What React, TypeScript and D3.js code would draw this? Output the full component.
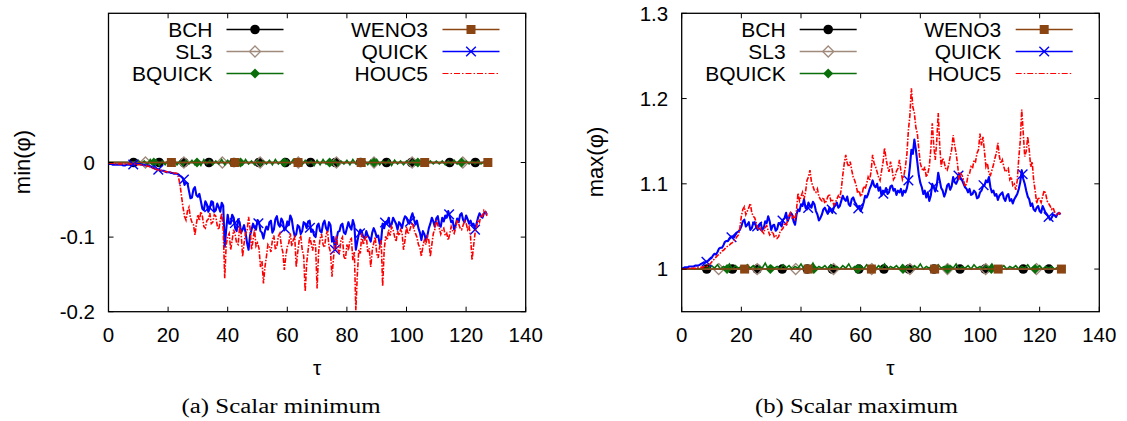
import React from 'react';
import * as d3 from 'd3';

// ---------- data ----------
const X_TICKS = [0, 20, 40, 60, 80, 100, 120, 140];
const MIN_Y_TICKS = [-0.2, -0.1, 0];
const MAX_Y_TICKS = [1, 1.1, 1.2, 1.3];

const SERIES_NAMES = ['BCH', 'SL3', 'BQUICK', 'WENO3', 'QUICK', 'HOUC5'];

// flat series (BCH, SL3, WENO3) are constant over the run
const FLAT_TAU = [0, 127.3];
const MIN_FLAT = [0, 0];
const MAX_FLAT = [1, 1];

// tau positions of the plotted point symbols
const BCH_MARKS = [8.4, 17, 25.3, 33.7, 42.1, 50.5, 59.4, 67.8, 76.2, 84.6, 93.3, 101.7, 114.5, 123.1];
const SL3_MARKS = [12.4, 25.3, 38.2, 50.9, 63.7, 76.5, 89.1, 101.9, 118.9];
const BQUICK_MARKS = [15.2, 29.7, 44.3, 59, 74.2, 89.1, 103.8, 118.5];
const WENO3_MARKS = [21.1, 42.4, 63.6, 84.8, 106.1, 127.3];
const QUICK_MARKS = [8.3, 16.7, 25.3, 33.8, 42.4, 50.3, 59.2, 67.6, 76, 84.4, 92.8, 101.2, 114.3, 123];

// sampled at tau = 0,1,2,...,127
const QUICK_MIN = [
  -0.002, -0.002, -0.003, -0.003, -0.003, -0.004, -0.003, -0.003, -0.003, -0.002,
  -0.002, -0.003, -0.003, -0.004, -0.005, -0.007, -0.009, -0.010, -0.011, -0.012,
  -0.013, -0.014, -0.015, -0.015, -0.018, -0.021, -0.027, -0.038, -0.047, -0.033,
  -0.046, -0.052, -0.064, -0.056, -0.061, -0.053, -0.064, -0.060, -0.054, -0.113,
  -0.070, -0.082, -0.074, -0.092, -0.080, -0.090, -0.094, -0.117, -0.090, -0.087,
  -0.077, -0.092, -0.102, -0.086, -0.080, -0.094, -0.076, -0.083, -0.075, -0.091,
  -0.079, -0.071, -0.090, -0.096, -0.086, -0.092, -0.082, -0.079, -0.093, -0.098,
  -0.085, -0.092, -0.082, -0.088, -0.080, -0.106, -0.117, -0.093, -0.084, -0.094,
  -0.088, -0.086, -0.077, -0.117, -0.096, -0.093, -0.102, -0.098, -0.106, -0.088,
  -0.100, -0.109, -0.082, -0.080, -0.074, -0.083, -0.078, -0.090, -0.083, -0.078,
  -0.074, -0.082, -0.068, -0.083, -0.088, -0.104, -0.096, -0.098, -0.082, -0.079,
  -0.075, -0.084, -0.074, -0.071, -0.065, -0.080, -0.090, -0.075, -0.070, -0.077,
  -0.071, -0.082, -0.084, -0.090, -0.074, -0.072, -0.068, -0.070,
];
// sampled at tau = 0.5,1.5,...,126.5 (the fast oscillation between the samples above)
const QUICK_MIN_HALF = [
  -0.002, -0.003, -0.003, -0.003, -0.003, -0.004, -0.003, -0.003, -0.002, -0.002,
  -0.002, -0.003, -0.004, -0.004, -0.006, -0.008, -0.009, -0.011, -0.011, -0.013,
  -0.013, -0.014, -0.015, -0.016, -0.019, -0.030, -0.028, -0.048, -0.036, -0.044,
  -0.042, -0.062, -0.052, -0.066, -0.052, -0.066, -0.055, -0.066, -0.058, -0.090,
  -0.082, -0.070, -0.088, -0.076, -0.094, -0.084, -0.108, -0.098, -0.082, -0.090,
  -0.080, -0.094, -0.092, -0.090, -0.078, -0.090, -0.072, -0.086, -0.079, -0.088,
  -0.084, -0.076, -0.099, -0.084, -0.096, -0.080, -0.088, -0.078, -0.090, -0.100,
  -0.082, -0.094, -0.078, -0.092, -0.084, -0.100, -0.104, -0.092, -0.082, -0.096,
  -0.080, -0.090, -0.084, -0.106, -0.090, -0.100, -0.092, -0.101, -0.094, -0.093,
  -0.098, -0.104, -0.088, -0.082, -0.086, -0.074, -0.082, -0.080, -0.088, -0.072,
  -0.080, -0.074, -0.076, -0.078, -0.094, -0.092, -0.104, -0.088, -0.074, -0.086,
  -0.072, -0.086, -0.079, -0.074, -0.072, -0.078, -0.084, -0.080, -0.068, -0.080,
  -0.076, -0.078, -0.082, -0.082, -0.068, -0.074, -0.066,
];

const HOUC5_MIN = [
  -0.001, -0.001, -0.001, -0.002, -0.002, -0.002, -0.002, -0.002, -0.002, -0.002,
  -0.003, -0.003, -0.004, -0.005, -0.006, -0.008, -0.009, -0.010, -0.011, -0.012,
  -0.013, -0.013, -0.014, -0.015, -0.030, -0.060, -0.077, -0.060, -0.080, -0.097,
  -0.070, -0.066, -0.086, -0.078, -0.068, -0.080, -0.072, -0.090, -0.068, -0.155,
  -0.099, -0.117, -0.090, -0.108, -0.086, -0.126, -0.095, -0.073, -0.117, -0.090,
  -0.108, -0.140, -0.162, -0.126, -0.113, -0.104, -0.117, -0.099, -0.112, -0.144,
  -0.113, -0.095, -0.104, -0.140, -0.104, -0.117, -0.173, -0.117, -0.108, -0.104,
  -0.169, -0.102, -0.110, -0.097, -0.113, -0.153, -0.108, -0.117, -0.104, -0.126,
  -0.110, -0.104, -0.131, -0.198, -0.117, -0.095, -0.104, -0.120, -0.140, -0.108,
  -0.122, -0.113, -0.166, -0.099, -0.090, -0.086, -0.099, -0.092, -0.090, -0.117,
  -0.086, -0.092, -0.081, -0.095, -0.110, -0.126, -0.104, -0.099, -0.126, -0.095,
  -0.077, -0.088, -0.090, -0.098, -0.104, -0.086, -0.095, -0.077, -0.088, -0.084,
  -0.081, -0.086, -0.131, -0.095, -0.077, -0.070, -0.064, -0.072,
];
const HOUC5_MIN_HALF = [
  -0.001, -0.001, -0.002, -0.002, -0.002, -0.002, -0.002, -0.002, -0.002, -0.003,
  -0.003, -0.004, -0.004, -0.005, -0.007, -0.008, -0.010, -0.010, -0.012, -0.012,
  -0.013, -0.014, -0.014, -0.020, -0.045, -0.072, -0.065, -0.074, -0.083, -0.082,
  -0.078, -0.072, -0.088, -0.076, -0.082, -0.070, -0.085, -0.078, -0.090, -0.110,
  -0.095, -0.104, -0.097, -0.110, -0.094, -0.108, -0.092, -0.088, -0.104, -0.112,
  -0.115, -0.132, -0.140, -0.110, -0.120, -0.098, -0.112, -0.095, -0.120, -0.125,
  -0.108, -0.112, -0.100, -0.120, -0.098, -0.125, -0.135, -0.100, -0.118, -0.112,
  -0.120, -0.096, -0.114, -0.092, -0.120, -0.128, -0.098, -0.122, -0.100, -0.130,
  -0.118, -0.102, -0.120, -0.150, -0.122, -0.110, -0.098, -0.115, -0.118, -0.100,
  -0.128, -0.104, -0.118, -0.104, -0.098, -0.090, -0.106, -0.098, -0.094, -0.104,
  -0.096, -0.085, -0.090, -0.100, -0.114, -0.112, -0.110, -0.104, -0.110, -0.090,
  -0.084, -0.096, -0.088, -0.095, -0.096, -0.092, -0.088, -0.082, -0.090, -0.078,
  -0.090, -0.100, -0.112, -0.086, -0.080, -0.072, -0.066,
];

const BQUICK_MIN = [
  0, 0, 0, 0, 0, 0, 0, 0, 0, 0.001,
  0.003, -0.002, 0.002, -0.003, 0.004, -0.002, 0.003, -0.004, 0.002, -0.003,
  0.003, -0.002, 0.004, -0.003, 0.002, -0.004, 0.003, -0.002, 0.003, -0.003,
  0.002, -0.004, 0.004, -0.002, 0.003, -0.003, 0.002, -0.002, 0.004, -0.003,
  0.003, -0.002, 0.002, -0.004, 0.003, -0.003, 0.004, -0.002, 0.002, -0.003,
  0.003, -0.004, 0.002, -0.002, 0.003, -0.003, 0.004, -0.002, 0.002, -0.004,
  0.003, -0.002, 0.004, -0.003, 0.002, -0.003, 0.003, -0.002, 0.002, -0.004,
  0.003, -0.003, 0.004, -0.002, 0.002, -0.003, 0.003, -0.004, 0.002, -0.002,
  0.003, -0.003, 0.004, -0.002, 0.003, -0.004, 0.002, -0.003, 0.003, -0.002,
  0.004, -0.003, 0.002, -0.002, 0.003, -0.004, 0.003, -0.002, 0.002, -0.003,
  0.002, -0.002, 0.003, -0.003, 0.002, -0.002, 0.003, -0.003, 0.002, -0.002,
  0.002, -0.002, 0.002, -0.003, 0.002, -0.002, 0.003, -0.002, 0.002, -0.002,
  0.002, -0.002, 0.002, -0.002, 0.002, -0.002, 0.001, 0,
];

const QUICK_MAX = [
  1.001, 1.002, 1.002, 1.003, 1.003, 1.004, 1.005, 1.007, 1.008, 1.010,
  1.013, 1.018, 1.020, 1.025, 1.028, 1.033, 1.036, 1.038, 1.040, 1.044,
  1.050, 1.058, 1.052, 1.046, 1.054, 1.049, 1.052, 1.046, 1.056, 1.062,
  1.046, 1.052, 1.047, 1.053, 1.058, 1.066, 1.060, 1.064, 1.052, 1.070,
  1.076, 1.082, 1.070, 1.074, 1.079, 1.068, 1.057, 1.064, 1.072, 1.065,
  1.069, 1.072, 1.078, 1.074, 1.086, 1.080, 1.076, 1.082, 1.079, 1.072,
  1.068, 1.078, 1.084, 1.094, 1.104, 1.096, 1.092, 1.086, 1.090, 1.088,
  1.097, 1.092, 1.087, 1.090, 1.086, 1.090, 1.104, 1.140, 1.152, 1.125,
  1.101, 1.088, 1.084, 1.080, 1.100, 1.091, 1.113, 1.095, 1.085, 1.098,
  1.093, 1.108, 1.100, 1.112, 1.104, 1.096, 1.090, 1.087, 1.092, 1.083,
  1.090, 1.097, 1.104, 1.108, 1.090, 1.086, 1.081, 1.088, 1.083, 1.086,
  1.080, 1.077, 1.085, 1.094, 1.116, 1.100, 1.085, 1.074, 1.070, 1.072,
  1.068, 1.074, 1.066, 1.061, 1.060, 1.063, 1.065, 1.064,
];
const QUICK_MAX_HALF = [
  1.001, 1.002, 1.003, 1.003, 1.004, 1.004, 1.006, 1.008, 1.009, 1.012,
  1.016, 1.017, 1.024, 1.025, 1.032, 1.033, 1.038, 1.037, 1.043, 1.046,
  1.056, 1.050, 1.055, 1.048, 1.055, 1.046, 1.054, 1.048, 1.054, 1.056,
  1.051, 1.045, 1.054, 1.050, 1.060, 1.056, 1.066, 1.056, 1.064, 1.068,
  1.074, 1.072, 1.078, 1.072, 1.076, 1.064, 1.060, 1.070, 1.068, 1.072,
  1.066, 1.076, 1.072, 1.080, 1.082, 1.085, 1.074, 1.084, 1.076, 1.074,
  1.072, 1.086, 1.088, 1.098, 1.098, 1.100, 1.096, 1.092, 1.095, 1.090,
  1.098, 1.094, 1.092, 1.094, 1.092, 1.095, 1.120, 1.135, 1.140, 1.110,
  1.096, 1.092, 1.090, 1.086, 1.096, 1.098, 1.104, 1.092, 1.090, 1.100,
  1.097, 1.102, 1.104, 1.106, 1.100, 1.094, 1.094, 1.088, 1.090, 1.084,
  1.092, 1.098, 1.102, 1.096, 1.092, 1.088, 1.086, 1.090, 1.080, 1.088,
  1.082, 1.082, 1.088, 1.102, 1.106, 1.092, 1.082, 1.077, 1.068, 1.074,
  1.066, 1.070, 1.064, 1.058, 1.064, 1.061, 1.066,
];

const HOUC5_MAX = [
  1.000, 1.000, 1.000, 1.001, 1.001, 1.001, 1.002, 1.002, 1.003, 1.004,
  1.008, 1.012, 1.016, 1.019, 1.022, 1.026, 1.028, 1.031, 1.035, 1.040,
  1.062, 1.073, 1.068, 1.077, 1.062, 1.054, 1.046, 1.044, 1.049, 1.045,
  1.042, 1.038, 1.036, 1.044, 1.048, 1.052, 1.063, 1.060, 1.057, 1.089,
  1.085, 1.082, 1.104, 1.116, 1.097, 1.090, 1.085, 1.080, 1.077, 1.085,
  1.080, 1.075, 1.082, 1.083, 1.110, 1.134, 1.120, 1.116, 1.104, 1.089,
  1.085, 1.097, 1.100, 1.104, 1.134, 1.120, 1.108, 1.115, 1.142, 1.120,
  1.126, 1.105, 1.115, 1.128, 1.105, 1.120, 1.163, 1.212, 1.183, 1.159,
  1.124, 1.115, 1.108, 1.120, 1.171, 1.128, 1.183, 1.120, 1.125, 1.116,
  1.132, 1.157, 1.136, 1.105, 1.110, 1.097, 1.110, 1.120, 1.128, 1.136,
  1.159, 1.155, 1.120, 1.112, 1.116, 1.130, 1.148, 1.124, 1.120, 1.116,
  1.105, 1.098, 1.093, 1.130, 1.187, 1.132, 1.155, 1.120, 1.104, 1.077,
  1.082, 1.085, 1.089, 1.077, 1.070, 1.067, 1.063, 1.065,
];
const HOUC5_MAX_HALF = [
  1.000, 1.000, 1.001, 1.001, 1.001, 1.002, 1.002, 1.003, 1.003, 1.006,
  1.010, 1.014, 1.017, 1.021, 1.024, 1.027, 1.030, 1.033, 1.038, 1.048,
  1.070, 1.064, 1.072, 1.066, 1.060, 1.048, 1.048, 1.042, 1.051, 1.040,
  1.044, 1.040, 1.038, 1.046, 1.054, 1.056, 1.066, 1.062, 1.070, 1.080,
  1.090, 1.090, 1.108, 1.102, 1.092, 1.094, 1.082, 1.084, 1.080, 1.088,
  1.082, 1.078, 1.086, 1.094, 1.124, 1.124, 1.126, 1.108, 1.098, 1.092,
  1.088, 1.094, 1.108, 1.115, 1.124, 1.114, 1.104, 1.125, 1.130, 1.114,
  1.118, 1.108, 1.118, 1.115, 1.110, 1.135, 1.180, 1.190, 1.166, 1.140,
  1.118, 1.120, 1.112, 1.140, 1.145, 1.150, 1.145, 1.130, 1.118, 1.122,
  1.140, 1.145, 1.122, 1.112, 1.104, 1.100, 1.112, 1.118, 1.126, 1.140,
  1.145, 1.138, 1.124, 1.110, 1.122, 1.136, 1.132, 1.128, 1.114, 1.118,
  1.108, 1.100, 1.104, 1.150, 1.160, 1.138, 1.140, 1.126, 1.092, 1.084,
  1.078, 1.092, 1.080, 1.074, 1.072, 1.064, 1.066,
];

const BQUICK_MAX = [
  1, 1, 1, 1, 1, 1, 1, 1, 1.001, 1.001,
  1.004, 1.001, 1.005, 1.000, 1.003, 1.001, 1.006, 1.000, 1.004, 1.001,
  1.003, 1.000, 1.005, 1.001, 1.004, 1.000, 1.003, 1.001, 1.007, 1.000,
  1.004, 1.001, 1.003, 1.000, 1.005, 1.001, 1.004, 1.000, 1.003, 1.001,
  1.006, 1.000, 1.004, 1.001, 1.007, 1.000, 1.003, 1.001, 1.004, 1.000,
  1.005, 1.001, 1.003, 1.000, 1.004, 1.001, 1.006, 1.000, 1.003, 1.001,
  1.004, 1.000, 1.005, 1.001, 1.003, 1.000, 1.004, 1.001, 1.006, 1.000,
  1.003, 1.001, 1.004, 1.000, 1.005, 1.001, 1.003, 1.000, 1.004, 1.001,
  1.006, 1.000, 1.003, 1.001, 1.004, 1.000, 1.005, 1.001, 1.003, 1.000,
  1.004, 1.001, 1.006, 1.000, 1.003, 1.001, 1.004, 1.000, 1.005, 1.001,
  1.003, 1.000, 1.004, 1.001, 1.006, 1.000, 1.003, 1.001, 1.004, 1.000,
  1.003, 1.001, 1.004, 1.000, 1.003, 1.001, 1.005, 1.000, 1.003, 1.001,
  1.004, 1.000, 1.003, 1.001, 1.003, 1.000, 1.002, 1.001,
];

// ---------- styles ----------
const COLORS: Record<string, string> = {
  BCH: '#000000',
  SL3: '#a08a7c',
  BQUICK: '#0a6e0a',
  WENO3: '#8b4513',
  QUICK: '#0000ff',
  HOUC5: '#ff0000',
};
const MARKER_KIND: Record<string, string> = {
  BCH: 'circle',
  SL3: 'odiamond',
  BQUICK: 'fdiamond',
  WENO3: 'square',
  QUICK: 'x',
  HOUC5: 'none',
};
const SANS = '"Liberation Sans", Arial, Helvetica, sans-serif';
const SERIF = '"Liberation Serif", "Times New Roman", serif';
const DASHDOT = '6,2,1.5,2';
const DASHDOT_DATA = '5,1.5,1.5,1.5';

function Marker({ kind, x, y }: { kind: string; x: number; y: number }) {
  if (kind === 'circle') return <circle cx={x} cy={y} r={4.8} fill={COLORS.BCH} />;
  if (kind === 'odiamond')
    return (
      <g>
        <path d={`M${x},${y - 5.5}L${x + 5.5},${y}L${x},${y + 5.5}L${x - 5.5},${y}Z`} fill="none" stroke={COLORS.SL3} strokeWidth={1.3} />
        <circle cx={x} cy={y} r={0.8} fill={COLORS.SL3} />
      </g>
    );
  if (kind === 'fdiamond')
    return <path d={`M${x},${y - 5}L${x + 5},${y}L${x},${y + 5}L${x - 5},${y}Z`} fill={COLORS.BQUICK} />;
  if (kind === 'square') return <rect x={x - 4.5} y={y - 4.5} width={9} height={9} fill={COLORS.WENO3} />;
  if (kind === 'x')
    return (
      <g stroke={COLORS.QUICK} strokeWidth={1.4}>
        <line x1={x - 4.8} y1={y - 4.8} x2={x + 4.8} y2={y + 4.8} />
        <line x1={x - 4.8} y1={y + 4.8} x2={x + 4.8} y2={y - 4.8} />
      </g>
    );
  return null;
}

// merge samples at integer tau with the samples in between
function mergeSamples(whole: number[], half: number[]): [number, number][] {
  const out: [number, number][] = [];
  whole.forEach((v, i) => {
    out.push([i, v]);
    if (i < half.length) out.push([i + 0.5, half[i]]);
  });
  return out;
}

function interp(arr: number[], t: number) {
  const i = Math.max(0, Math.min(arr.length - 1, Math.floor(t)));
  const j = Math.min(arr.length - 1, i + 1);
  const f = t - i;
  return arr[i] + (arr[j] - arr[i]) * Math.max(0, Math.min(1, f));
}

const TOP = 13.3;
const BOTTOM = 311.7;

type PanelCfg = {
  id: string;
  left: number;
  right: number;
  yDomain: [number, number];
  yTicks: number[];
  yLabel: string;
  caption: string;
  captionX: number;
  captionLen: number;
  flat: number[];
  quick: number[];
  quickHalf: number[];
  houc: number[];
  houcHalf: number[];
  bquick: number[];
};

function Panel({ p }: { p: PanelCfg }) {
  const x = d3.scaleLinear().domain([0, 140]).range([p.left, p.right]);
  const y = d3.scaleLinear().domain(p.yDomain).range([BOTTOM, TOP]);
  const flatLine = d3
    .line<number>()
    .x((_, i) => x(FLAT_TAU[i]))
    .y((d) => y(d));
  const seriesLine = d3
    .line<number>()
    .x((_, i) => x(i))
    .y((d) => y(d));
  const pairLine = d3
    .line<[number, number]>()
    .x((d) => x(d[0]))
    .y((d) => y(d[1]));
  const quickPts = mergeSamples(p.quick, p.quickHalf);
  const houcPts = mergeSamples(p.houc, p.houcHalf);
  const flatVal = p.flat[0];
  const clipId = `clip-${p.id}`;
  const cx = (p.left + p.right) / 2;

  const legendRows = [
    { col: 0, row: 0, name: 'BCH' },
    { col: 0, row: 1, name: 'SL3' },
    { col: 0, row: 2, name: 'BQUICK' },
    { col: 1, row: 0, name: 'WENO3' },
    { col: 1, row: 1, name: 'QUICK' },
    { col: 1, row: 2, name: 'HOUC5' },
  ];

  return (
    <g>
      <defs>
        <clipPath id={clipId}>
          <rect x={p.left} y={TOP} width={p.right - p.left} height={BOTTOM - TOP} />
        </clipPath>
      </defs>

      {/* data */}
      <g clipPath={`url(#${clipId})`} fill="none">
        {/* BCH */}
        <path d={flatLine(p.flat) || ''} stroke={COLORS.BCH} strokeWidth={1.4} />
        {BCH_MARKS.map((t, i) => (
          <Marker key={'b' + i} kind="circle" x={x(t)} y={y(flatVal)} />
        ))}
        {/* SL3 */}
        <path d={flatLine(p.flat) || ''} stroke={COLORS.SL3} strokeWidth={1.4} />
        {SL3_MARKS.map((t, i) => (
          <Marker key={'s' + i} kind="odiamond" x={x(t)} y={y(flatVal)} />
        ))}
        {/* BQUICK */}
        <path d={seriesLine(p.bquick) || ''} stroke={COLORS.BQUICK} strokeWidth={1.6} />
        {BQUICK_MARKS.map((t, i) => (
          <Marker key={'q' + i} kind="fdiamond" x={x(t)} y={y(flatVal)} />
        ))}
        {/* WENO3 */}
        <path d={flatLine(p.flat) || ''} stroke={COLORS.WENO3} strokeWidth={1.4} />
        {WENO3_MARKS.map((t, i) => (
          <Marker key={'w' + i} kind="square" x={x(t)} y={y(flatVal)} />
        ))}
        {/* QUICK */}
        <path d={pairLine(quickPts) || ''} stroke={COLORS.QUICK} strokeWidth={2.1} strokeLinejoin="round" />
        {QUICK_MARKS.map((t, i) => (
          <Marker key={'k' + i} kind="x" x={x(t)} y={y(interp(p.quick, t))} />
        ))}
        {/* HOUC5 */}
        <path d={pairLine(houcPts) || ''} stroke={COLORS.HOUC5} strokeWidth={1.6} strokeDasharray={DASHDOT_DATA} />
      </g>

      {/* frame */}
      <rect x={p.left} y={TOP} width={p.right - p.left} height={BOTTOM - TOP} fill="none" stroke="#000" strokeWidth={1.3} />

      {/* x ticks */}
      {X_TICKS.map((t) => (
        <g key={'xt' + t}>
          <line x1={x(t)} x2={x(t)} y1={BOTTOM} y2={BOTTOM - 5} stroke="#000" strokeWidth={1} />
          <line x1={x(t)} x2={x(t)} y1={TOP} y2={TOP + 5} stroke="#000" strokeWidth={1} />
          <text x={x(t)} y={BOTTOM + 30} textAnchor="middle" fontFamily={SANS} fontSize={20.5} fill="#000">
            {String(t)}
          </text>
        </g>
      ))}
      {/* y ticks */}
      {p.yTicks.map((v) => (
        <g key={'yt' + v}>
          <line x1={p.left} x2={p.left + 5} y1={y(v)} y2={y(v)} stroke="#000" strokeWidth={1} />
          <line x1={p.right} x2={p.right - 5} y1={y(v)} y2={y(v)} stroke="#000" strokeWidth={1} />
          <text x={p.left - 13.5} y={y(v) + 7.3} textAnchor="end" fontFamily={SANS} fontSize={20.5} fill="#000">
            {String(v)}
          </text>
        </g>
      ))}

      {/* axis labels */}
      <text x={cx} y={375} textAnchor="middle" fontFamily={SANS} fontSize={21} fill="#000">
        τ
      </text>
      <text
        transform={`translate(${p.left - 86},${162}) rotate(-90)`}
        textAnchor="middle"
        dominantBaseline="central"
        fontFamily={SANS}
        fontSize={22}
        fill="#000"
      >
        {p.yLabel}
      </text>

      {/* legend */}
      {legendRows.map((r) => {
        const rowY = 29.5 + r.row * 22;
        const textRight = p.left + (r.col === 0 ? 104 : 319.5);
        const l0 = p.left + (r.col === 0 ? 118 : 334);
        const l1 = p.left + (r.col === 0 ? 175 : 391);
        const mx = (l0 + l1) / 2;
        const kind = MARKER_KIND[r.name];
        return (
          <g key={'lg' + r.name}>
            <text x={textRight} y={rowY + 7.5} textAnchor="end" fontFamily={SANS} fontSize={21} fill="#000">
              {r.name}
            </text>
            <line
              x1={l0}
              x2={l1}
              y1={rowY}
              y2={rowY}
              stroke={COLORS[r.name]}
              strokeWidth={r.name === 'HOUC5' ? 1.1 : 1.5}
              strokeDasharray={r.name === 'HOUC5' ? DASHDOT : undefined}
            />
            <Marker kind={kind} x={mx} y={rowY} />
          </g>
        );
      })}

      {/* caption */}
      <text
        x={p.captionX}
        y={413}
        textAnchor="middle"
        fontFamily={SERIF}
        fontSize={20}
        fill="#000"
        textLength={p.captionLen}
        lengthAdjust="spacingAndGlyphs"
      >
        {p.caption}
      </text>
    </g>
  );
}

export default function App() {
  const panels: PanelCfg[] = [
    {
      id: 'min',
      left: 108.5,
      right: 525.7,
      yDomain: [-0.2, 0.2],
      yTicks: MIN_Y_TICKS,
      yLabel: 'min(φ)',
      caption: '(a)  Scalar minimum',
      captionX: 281,
      captionLen: 199,
      flat: MIN_FLAT,
      quick: QUICK_MIN,
      quickHalf: QUICK_MIN_HALF,
      houc: HOUC5_MIN,
      houcHalf: HOUC5_MIN_HALF,
      bquick: BQUICK_MIN,
    },
    {
      id: 'max',
      left: 681.7,
      right: 1099.3,
      yDomain: [0.95, 1.3],
      yTicks: MAX_Y_TICKS,
      yLabel: 'max(φ)',
      caption: '(b)  Scalar maximum',
      captionX: 856.5,
      captionLen: 203,
      flat: MAX_FLAT,
      quick: QUICK_MAX,
      quickHalf: QUICK_MAX_HALF,
      houc: HOUC5_MAX,
      houcHalf: HOUC5_MAX_HALF,
      bquick: BQUICK_MAX,
    },
  ];
  return (
    <svg
      width={1127}
      height={421}
      viewBox="0 0 1127 421"
      style={{ position: 'absolute', left: 0, top: 0, background: '#fff' }}
      data-series={SERIES_NAMES.join(',')}
    >
      <rect x={0} y={0} width={1127} height={421} fill="#fff" />
      {panels.map((p) => (
        <Panel key={p.id} p={p} />
      ))}
    </svg>
  );
}
